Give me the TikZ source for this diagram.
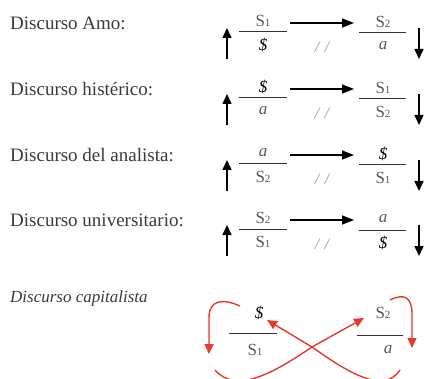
\documentclass[tikz,border=0pt]{standalone}
\usepackage{fontspec}
\setmainfont{Liberation Serif}
\usetikzlibrary{arrows.meta}
\definecolor{txt}{HTML}{3A3A3A}
\definecolor{capred}{HTML}{E63A2E}
\newcommand{\Sone}{S{\fontsize{11}{11}\selectfont 1}}
\newcommand{\Stwo}{S{\fontsize{11}{11}\selectfont 2}}
\newcommand{\Sbar}{\textcolor{black}{\textit{\$}}}
\begin{document}
\begin{tikzpicture}[x=1pt,y=-1pt,
  lab/.style={anchor=west,inner sep=0pt,text=txt,font=\fontsize{19}{19}\selectfont},
  sym/.style={inner sep=0pt,text=txt!85,font=\fontsize{17}{17}\selectfont},
  bar/.style={draw=black!80,line width=1pt},
  blk/.style={line width=1.5pt,-{Triangle[length=10pt,width=9pt]}},
  harr/.style={line width=1.6pt,-{Triangle[length=12pt,width=9pt]}},
  sl/.style={inner sep=0pt,text=black!40,font=\fontsize{16}{16}\selectfont\itshape},
  red/.style={draw=capred,line width=1.4pt,-{Triangle[length=10pt,width=9pt]}}]
\useasboundingbox (0,0) rectangle (425,379);

% rows: label, left top, left bottom, right top, right bottom, bar y
\foreach \n/\lbl/\lt/\lb/\rt/\rb/\y in {
  1/{Discurso Amo:}/{\Sone}/{\Sbar}/{\Stwo}/{\textit{a}}/32,
  2/{Discurso histérico:}/{\Sbar}/{\textit{a}}/{\Sone}/{\Stwo}/98,
  3/{Discurso del analista:}/{\textit{a}}/{\Stwo}/{\Sbar}/{\Sone}/164,
  4/{Discurso universitario:}/{\Stwo}/{\Sone}/{\textit{a}}/{\Sbar}/229}{
  \node[lab] (lab\n) at (10,\y-9) {\lbl};
  \coordinate (lbl\n) at (239,\y);
  \coordinate (lbr\n) at (287,\y);
  \coordinate (rbl\n) at (359,\y+1);
  \coordinate (rbr\n) at (406,\y+1);
  \draw[bar] (lbl\n) -- (lbr\n);
  \draw[bar] (rbl\n) -- (rbr\n);
  \node[sym] (lt\n) at (263,\y-11) {\lt};
  \node[sym] (lb\n) at (263,\y+13) {\lb};
  \node[sym] (rt\n) at (383,\y-10) {\rt};
  \node[sym] (rb\n) at (383,\y+14) {\rb};
  \node[sl] (sl\n) at (322,\y+15) {/\,\,/};
  \coordinate (ua\n) at (227,\y+27);
  \coordinate (ub\n) at (227,\y-4);
  \coordinate (da\n) at (419,\y-4);
  \coordinate (db\n) at (419,\y+27);
  \coordinate (ha\n) at (290,\y-9);
  \coordinate (hb\n) at (354,\y-9);
  \draw[blk] (ua\n) -- (ub\n);
  \draw[blk] (da\n) -- (db\n);
  \draw[harr] (ha\n) -- (hb\n);
}

% capitalist discourse
\node[lab,font=\fontsize{17}{17}\selectfont\itshape] (labc) at (10,298) {Discurso capitalista};
\coordinate (cl1) at (229,333); \coordinate (cl2) at (277,333);
\coordinate (cr1) at (357,335); \coordinate (cr2) at (403,335);
\draw[bar] (cl1) -- (cl2);
\draw[bar] (cr1) -- (cr2);
\node[sym] (cdol) at (259,313) {\Sbar};
\node[sym] (cs1) at (255,350) {\Sone};
\node[sym] (cs2) at (383,313) {\Stwo};
\node[sym] (ca) at (388,350) {\textit{a}};

\coordinate (lc0) at (240,306); \coordinate (lc1) at (209,354);
\coordinate (rc0) at (390,300); \coordinate (rc1) at (412,348);
\coordinate (x1a) at (215,370); \coordinate (x1b) at (364,318);
\coordinate (x2a) at (400,370); \coordinate (x2b) at (267,320);
\coordinate (xc) at (312,347);
\draw[red] (lc0) .. controls (222,298) and (209,300) .. (209,318) -- (lc1);
\draw[red] (rc0) .. controls (404,293) and (412,297) .. (412,314) -- (rc1);
\draw[red] (x1a) .. controls (236,394) and (272,374) .. (xc) -- (x1b);
\draw[red] (x2a) .. controls (384,394) and (350,374) .. (xc) -- (x2b);
\end{tikzpicture}
\end{document}
